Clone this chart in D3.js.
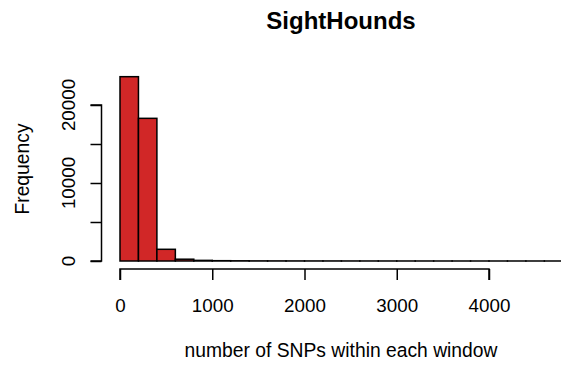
<!DOCTYPE html>
<html>
<head>
<meta charset="utf-8">
<script src="https://cdn.jsdelivr.net/npm/d3@7"></script>
<style>
  html, body { margin: 0; padding: 0; background: #fff; }
  svg { display: block; font-family: "Liberation Sans", Arial, sans-serif; }
</style>
</head>
<body>
<svg id="chart" width="561" height="368"></svg>
<script>
// Histogram of SNP counts per window (bin width 200)
const binStarts = [0, 200, 400, 600, 800, 1000, 1200, 1400, 1600, 1800, 2000, 2200,
                   2400, 2600, 2800, 3000, 3200, 3400, 3600, 3800, 4000, 4200, 4400, 4600];
const binWidth = 200;
const counts = [23630, 18290, 1500, 230, 80, 40, 25, 15, 12, 10, 8, 8,
                6, 5, 4, 3, 3, 2, 2, 2, 1, 1, 1, 1];
const xTicks = [0, 1000, 2000, 3000, 4000];
const yTicks = [0, 5000, 10000, 15000, 20000];
const yLabelTicks = [0, 10000, 20000];

const titleText = "SightHounds";
const xLabel = "number of SNPs within each window";
const yLabel = "Frequency";

const tickFont = 18.8;
const labelFont = 19.3;

const svg = d3.select("#chart");

const x = d3.scaleLinear().domain([0, 1000]).range([120, 212.25]);
const y = d3.scaleLinear().domain([0, 20000]).range([261, 105]);

// bars
svg.append("g").selectAll("rect")
  .data(binStarts.map((s, i) => ({ x0: s, x1: s + binWidth, n: counts[i] })))
  .join("rect")
  .attr("x", d => x(d.x0))
  .attr("y", d => y(d.n))
  .attr("width", d => x(d.x1) - x(d.x0))
  .attr("height", d => y(0) - y(d.n))
  .attr("fill", "#d12727")
  .attr("stroke", "#000")
  .attr("stroke-width", 1.5);

// x axis
const xAxis = svg.append("g").attr("transform", "translate(0,269)")
  .call(d3.axisBottom(x).tickValues(xTicks).tickSize(11).tickPadding(0).tickFormat(d3.format("d")));
xAxis.select(".domain").attr("d", `M${x(0)},11V0H${x(4000)}V11`).attr("stroke-width", 1.5);
xAxis.selectAll(".tick line").attr("stroke-width", 1.5);
xAxis.selectAll("text")
  .attr("y", 43).attr("dy", null)
  .attr("font-size", tickFont).attr("fill", "#000")
  .attr("font-family", "Liberation Sans, Arial, sans-serif");

// y axis
const yAxis = svg.append("g").attr("transform", "translate(101.5,0)")
  .call(d3.axisLeft(y).tickValues(yTicks).tickSize(11).tickFormat(""));
yAxis.select(".domain").attr("d", `M-11,${y(0)}H0V${y(20000)}H-11`).attr("stroke-width", 1.5);
yAxis.selectAll(".tick line").attr("stroke-width", 1.5);

svg.append("g").selectAll("text")
  .data(yLabelTicks)
  .join("text")
  .attr("transform", d => `translate(75,${y(d)}) rotate(-90)`)
  .attr("text-anchor", "middle")
  .attr("font-size", tickFont)
  .text(d => d3.format("d")(d));

// title and axis labels
svg.append("text")
  .attr("x", 341).attr("y", 28.5)
  .attr("text-anchor", "middle")
  .attr("font-size", 24).attr("font-weight", "bold")
  .text(titleText);

svg.append("text")
  .attr("x", 341).attr("y", 356.5)
  .attr("text-anchor", "middle")
  .attr("font-size", labelFont)
  .text(xLabel);

svg.append("text")
  .attr("transform", "translate(29,169) rotate(-90)")
  .attr("text-anchor", "middle")
  .attr("font-size", labelFont)
  .text(yLabel);
</script>
</body>
</html>
